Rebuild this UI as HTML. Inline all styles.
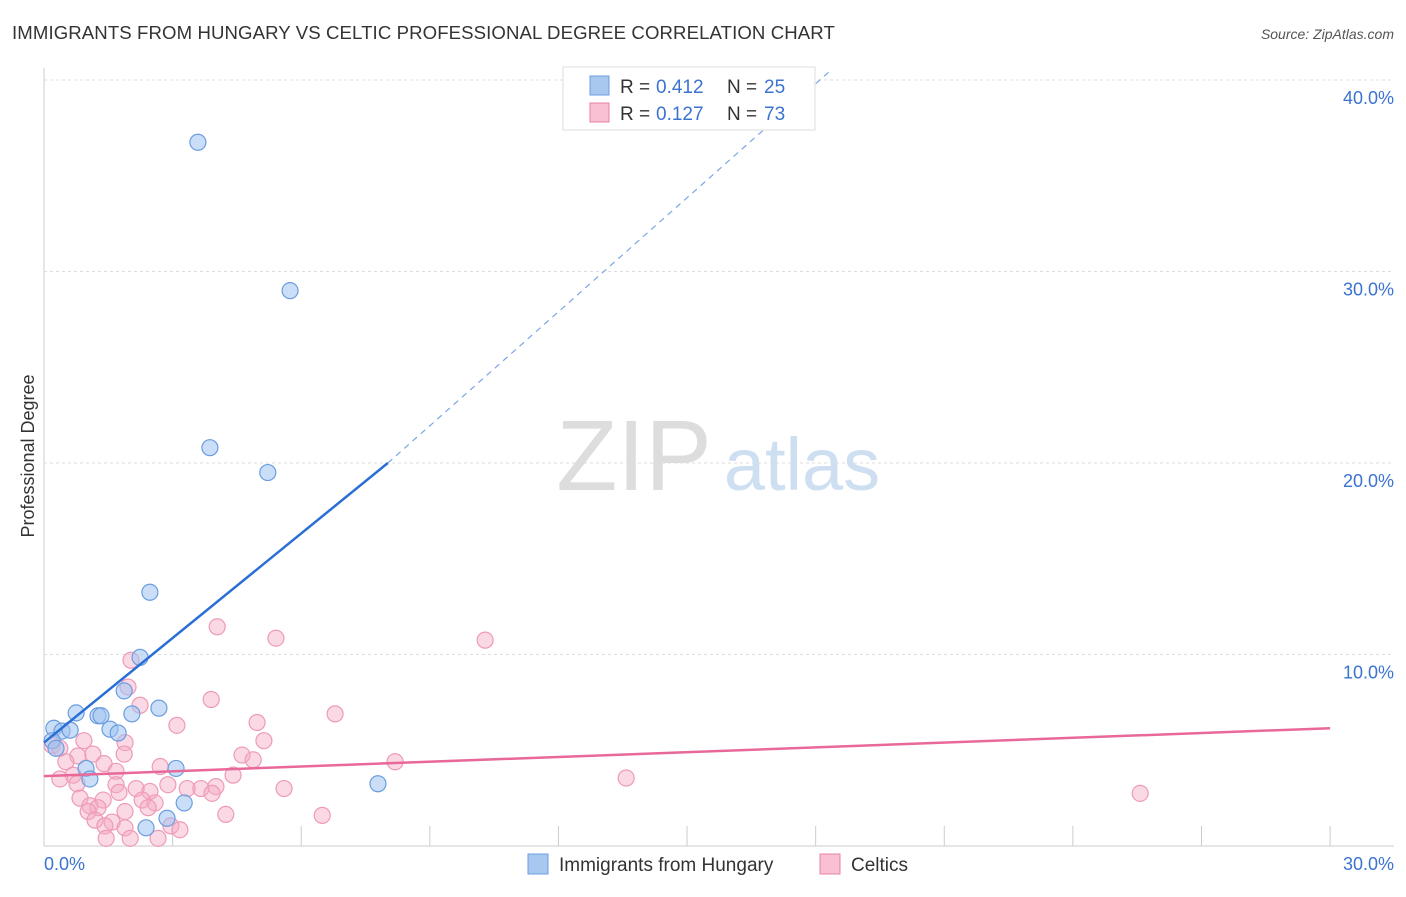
<!DOCTYPE html>
<html><head><meta charset="utf-8"><style>
body{margin:0;background:#fff;font-family:"Liberation Sans",sans-serif;}
svg text{font-family:"Liberation Sans",sans-serif;}
</style></head><body>
<svg width="1406" height="892" xmlns="http://www.w3.org/2000/svg">
<text x="12" y="39" font-size="18.6" fill="#333" letter-spacing="0.1">IMMIGRANTS FROM HUNGARY VS CELTIC PROFESSIONAL DEGREE CORRELATION CHART</text>
<text x="1394" y="39" font-size="14" fill="#555" text-anchor="end" font-style="italic">Source: ZipAtlas.com</text>
<g id="grid"></g>
<text x="634" y="490" font-size="100" fill="#ddd" font-family="Liberation Serif" text-anchor="middle">ZIP</text>
<text x="802" y="490" font-size="74" fill="#cfdff2" text-anchor="middle">atlas</text>
<g id="marks"></g>
<text x="34" y="456" font-size="18" fill="#333" text-anchor="middle" transform="rotate(-90 34 456)">Professional Degree</text>
<g>
<rect x="563" y="67" width="252" height="63" fill="#fff" stroke="#ddd"/>
<rect x="590" y="76" width="19" height="19" fill="#a8c8f0" stroke="#6a9ee0"/>
<rect x="590" y="103" width="19" height="19" fill="#f8c0d2" stroke="#e880a8"/>
<text x="620" y="93" font-size="19" fill="#333">R =</text>
<text x="656" y="93" font-size="19" fill="#3b73d1">0.412</text>
<text x="727" y="93" font-size="19" fill="#333">N =</text>
<text x="764" y="93" font-size="19" fill="#3b73d1">25</text>
<text x="620" y="120" font-size="19" fill="#333">R =</text>
<text x="656" y="120" font-size="19" fill="#3b73d1">0.127</text>
<text x="727" y="120" font-size="19" fill="#333">N =</text>
<text x="764" y="120" font-size="19" fill="#3b73d1">73</text>
</g>
<g>
<rect x="528" y="854" width="20" height="20" fill="#a8c8f0" stroke="#6a9ee0"/>
<text x="559" y="871" font-size="19" fill="#333">Immigrants from Hungary</text>
<rect x="820" y="854" width="20" height="20" fill="#f8c0d2" stroke="#e880a8"/>
<text x="851" y="871" font-size="19" fill="#333">Celtics</text>
</g>
</svg>
<script>
const xTicks=[0,3,6,9,12,15,18,21,24,27,30];
const yTicks=[10,20,30,40];
const yTickLabels=["10.0%","20.0%","30.0%","40.0%"];
const xTickLabels=["0.0%","30.0%"];
const blueX=[3.59,5.74,3.87,5.22,2.47,2.24,1.87,2.68,0.75,1.26,1.33,2.05,0.23,0.42,0.61,1.54,1.73,0.19,0.28,0.98,1.07,3.08,3.27,7.79,2.87,2.38];
const blueY=[36.75,29.0,20.8,19.5,13.25,9.85,8.1,7.2,6.95,6.8,6.8,6.9,6.15,6.0,6.05,6.1,5.9,5.5,5.1,4.05,3.5,4.05,2.25,3.25,1.45,0.95];
const pinkX=[4.04,5.41,10.29,2.03,1.96,3.9,2.24,6.79,3.1,4.97,5.13,1.89,0.93,0.19,0.37,1.14,1.87,0.79,4.62,4.88,8.19,0.51,1.4,2.71,1.68,4.41,0.68,0.37,13.58,1.68,2.89,3.34,3.66,4.01,2.15,0.77,2.47,5.6,3.92,1.75,25.57,0.84,1.38,2.29,2.59,1.07,1.26,2.43,1.89,1.03,4.24,6.49,1.19,1.59,1.42,1.89,2.96,3.17,2.01,2.66,1.45];
const pinkY=[11.45,10.85,10.75,9.7,8.3,7.65,7.35,6.9,6.3,6.45,5.5,5.4,5.5,5.25,5.1,4.8,4.8,4.7,4.75,4.5,4.4,4.4,4.3,4.15,3.9,3.7,3.7,3.5,3.55,3.2,3.2,3.0,3.0,3.1,3.0,3.25,2.85,3.0,2.75,2.8,2.75,2.5,2.4,2.4,2.25,2.1,2.0,2.0,1.8,1.8,1.65,1.6,1.35,1.25,1.05,0.95,1.05,0.85,0.4,0.4,0.4];
const blueLine=[5.4,20.0,8.02];
const blueDash=[40.4,18.3];
const pinkLine=[3.65,6.15];
const NS="http://www.w3.org/2000/svg";
const sx=v=>44+v*42.87, sy=v=>846-v*19.15;
function mk(t,a,p){const e=document.createElementNS(NS,t);for(const k in a)e.setAttribute(k,a[k]);p.appendChild(e);return e;}
const grid=document.getElementById('grid'), marks=document.getElementById('marks');
mk('line',{x1:44,y1:68,x2:44,y2:846,stroke:'#ccc'},grid);
mk('line',{x1:44,y1:846,x2:1394,y2:846,stroke:'#ccc'},grid);
yTicks.forEach((t,i)=>{
 const l=mk('line',{x1:44,y1:sy(t),x2:1394,y2:sy(t),stroke:'#ddd','stroke-dasharray':'3,3'},grid);
 
 
 const tx=mk('text',{x:1394,y:sy(t)+24,'font-size':18,fill:'#3b73d1','text-anchor':'end'},grid);
 tx.textContent=yTickLabels[i];
 
 
});
xTicks.forEach(t=>{
 const l=mk('line',{x1:sx(t),y1:826,x2:sx(t),y2:846,stroke:'#ccc'},grid);
 
 
});
[[0,44,'start'],[30,1394,'end']].forEach((d,i)=>{
 const tx=mk('text',{x:d[1],y:870,'font-size':18,fill:'#3b73d1','text-anchor':d[2]},grid);
 tx.textContent=xTickLabels[i];
 
 
});
pinkX.forEach((x,i)=>{
 const c=mk('circle',{cx:sx(x),cy:sy(pinkY[i]),r:8,fill:'rgba(245,170,196,0.45)',stroke:'#ee9ab8','stroke-width':1.2},marks);
 
 
});
blueX.forEach((x,i)=>{
 const c=mk('circle',{cx:sx(x),cy:sy(blueY[i]),r:8,fill:'rgba(160,195,240,0.55)',stroke:'#6a9ee0','stroke-width':1.2},marks);
 
 
});
const pl=mk('line',{x1:sx(0),y1:sy(pinkLine[0]),x2:sx(30),y2:sy(pinkLine[1]),stroke:'#e8689a','stroke-width':2.5},marks);


const bl=mk('line',{x1:sx(0),y1:sy(blueLine[0]),x2:sx(blueLine[2]),y2:sy(blueLine[1]),stroke:'#2a6fd6','stroke-width':2.5},marks);


const bd=mk('line',{x1:sx(blueLine[2]),y1:sy(blueLine[1]),x2:sx(blueDash[1]),y2:sy(blueDash[0]),stroke:'#7aa6e6','stroke-width':1.2,'stroke-dasharray':'6,5'},marks);


</script>
</body></html>
